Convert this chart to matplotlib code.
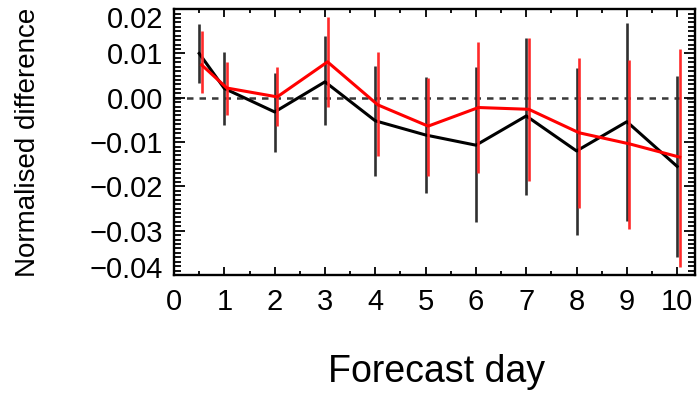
import matplotlib
matplotlib.use('Agg')
import matplotlib.pyplot as plt
import matplotlib.transforms as mtransforms
from matplotlib.ticker import MultipleLocator

plt.rcParams['font.family'] = ['Liberation Sans', 'DejaVu Sans']

'''Values read off the reference picture'''
days = [0.5, 1, 2, 3, 4, 5, 6, 7, 8, 9, 10]
red_shift = 0.05

black_mean = [0.0100, 0.0021, -0.0032, 0.0036, -0.0052, -0.0084, -0.0107,
              -0.0041, -0.0120, -0.0054, -0.0155]
black_top = [0.0166, 0.0104, 0.0056, 0.0139, 0.0071, 0.0047, 0.0070,
             0.0136, 0.0068, 0.0169, 0.0049]
black_bot = [0.0034, -0.0061, -0.0122, -0.0061, -0.0176, -0.0215, -0.0281,
             -0.0219, -0.0309, -0.0278, -0.0360]

red_mean = [0.0074, 0.0022, 0.0002, 0.0081, -0.0016, -0.0064, -0.0022,
            -0.0026, -0.0079, -0.0104, -0.0134]
red_top = [0.0150, 0.0081, 0.0070, 0.0182, 0.0104, 0.0045, 0.0126,
           0.0136, 0.0090, 0.0086, 0.0111]
red_bot = [0.0010, -0.0039, -0.0064, -0.0020, -0.0131, -0.0176, -0.0169,
           -0.0188, -0.0249, -0.0296, -0.0381]

x_ticks = [0, 1, 2, 3, 4, 5, 6, 7, 8, 9, 10]
y_ticks = [-0.04, -0.03, -0.02, -0.01, 0.0, 0.01, 0.02]
y_labels = ['\u22120.04', '\u22120.03', '\u22120.02', '\u22120.01',
            '0.00', '0.01', '0.02']

fig = plt.figure(figsize=(6.99, 3.98), dpi=100)
ax = fig.add_axes([0.249, 0.309, 0.745, 0.668])

red_days = [d + red_shift for d in days]

ax.axhline(0, color='#383838', lw=1.8, dashes=(2.6, 2.4), zorder=1)

'''black series'''
ax.vlines(days, black_bot, black_top, color='#303030', lw=1.9, zorder=2)
ax.plot(days, black_mean, color='black', lw=2.2, zorder=3)

'''red series'''
ax.vlines(red_days, red_bot, red_top, color='#ff2a2a', lw=1.9, zorder=4)
ax.plot(red_days, red_mean, color='#ff0000', lw=2.2, zorder=5)

ax.set_xlim(0, 10.35)
ax.set_ylim(-0.04, 0.02)
ax.set_xticks(x_ticks)
ax.set_yticks(y_ticks)
ax.set_yticklabels(y_labels)
ax.xaxis.set_minor_locator(MultipleLocator(0.5))
ax.yaxis.set_minor_locator(MultipleLocator(0.001))

ax.tick_params(which='both', direction='in', top=True, right=True,
               width=1.3, labelsize=21)
ax.tick_params(axis='x', which='major', length=6, pad=9)
ax.tick_params(axis='x', which='minor', length=3)
ax.tick_params(axis='y', which='major', length=8, pad=8)
ax.tick_params(axis='y', which='minor', length=5)
for side in ax.spines.values():
    side.set_linewidth(1.7)

'''end labels sit inside the frame, like in the reference'''
ylabs = ax.get_yticklabels()
ylabs[-1].set_transform(ylabs[-1].get_transform() +
                        mtransforms.ScaledTranslation(0, -8 / 100, fig.dpi_scale_trans))
ylabs[0].set_transform(ylabs[0].get_transform() +
                       mtransforms.ScaledTranslation(0, 8 / 100, fig.dpi_scale_trans))

fig.text(28 / 699, 0.5 * (0.309 + 0.977), 'Normalised difference',
         rotation=90, ha='center', va='center', fontsize=20)
fig.text(436 / 699, 0.040, 'Forecast day', ha='center', va='baseline',
         fontsize=27)

fig.savefig('out.png', dpi=100)
